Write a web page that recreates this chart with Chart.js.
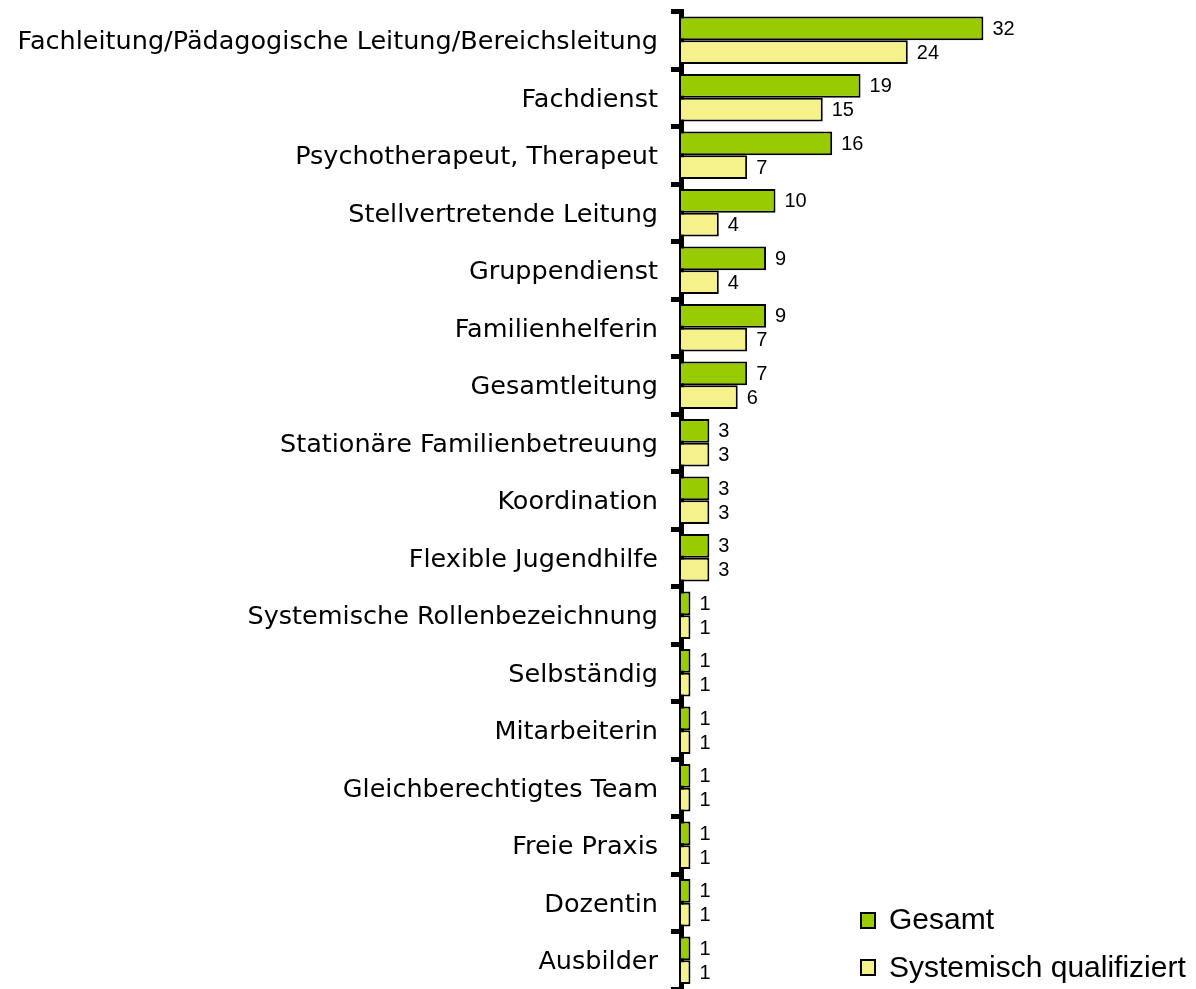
<!DOCTYPE html>
<html>
<head>
<meta charset="utf-8">
<script src="https://cdn.jsdelivr.net/npm/chart.js@4.4.0/dist/chart.umd.min.js"></script>
<style>
  html, body { margin: 0; padding: 0; background: #fff; overflow: hidden; }
  #wrap { position: relative; width: 1196px; height: 989px; overflow: hidden; }
  canvas { position: absolute; left: 0; top: 0; }
  .leg { position: absolute; font-family: "Liberation Sans", Arial, sans-serif; font-size: 30px; line-height: 30px; color: #000; white-space: nowrap; }
  .box { position: absolute; width: 16px; height: 17px; box-sizing: border-box; border: 2px solid #000; }
</style>
</head>
<body>
<div id="wrap">
  <canvas id="c" width="1196" height="1000"></canvas>
  <div class="box" id="b1" style="left:860px; top:912px;"></div>
  <div class="leg" id="l1" style="left:889px; top:904px;"></div>
  <div class="box" id="b2" style="left:860px; top:959px;"></div>
  <div class="leg" id="l2" style="left:889px; top:952px;"></div>
</div>
<script>
const categories = [
  "Fachleitung/Pädagogische Leitung/Bereichsleitung",
  "Fachdienst",
  "Psychotherapeut, Therapeut",
  "Stellvertretende Leitung",
  "Gruppendienst",
  "Familienhelferin",
  "Gesamtleitung",
  "Stationäre Familienbetreuung",
  "Koordination",
  "Flexible Jugendhilfe",
  "Systemische Rollenbezeichnung",
  "Selbständig",
  "Mitarbeiterin",
  "Gleichberechtigtes Team",
  "Freie Praxis",
  "Dozentin",
  "Ausbilder"
];
const seriesNames = ["Gesamt", "Systemisch qualifiziert"];
const gesamt = [32, 19, 16, 10, 9, 9, 7, 3, 3, 3, 1, 1, 1, 1, 1, 1, 1];
const systemisch = [24, 15, 7, 4, 4, 7, 6, 3, 3, 3, 1, 1, 1, 1, 1, 1, 1];
const colors = ["#99CC00", "#F5F28C"];

document.getElementById('l1').textContent = seriesNames[0];
document.getElementById('l2').textContent = seriesNames[1];
document.getElementById('b1').style.background = colors[0];
document.getElementById('b2').style.background = colors[1];

const valueLabels = {
  id: 'valueLabels',
  afterDatasetsDraw(chart) {
    const ctx = chart.ctx;
    ctx.save();
    ctx.font = '20px "Liberation Sans", Arial, sans-serif';
    ctx.fillStyle = '#000';
    ctx.textAlign = 'left';
    ctx.textBaseline = 'middle';
    chart.data.datasets.forEach((ds, di) => {
      const meta = chart.getDatasetMeta(di);
      meta.data.forEach((el, i) => {
        ctx.fillText(String(ds.data[i]), el.x + 9, el.y + 1);
      });
    });
    ctx.restore();
  }
};

new Chart(document.getElementById('c'), {
  type: 'bar',
  data: {
    labels: categories,
    datasets: [
      { label: seriesNames[0], data: gesamt, backgroundColor: colors[0], borderColor: '#000', borderWidth: 2, categoryPercentage: 0.83, barPercentage: 1.0 },
      { label: seriesNames[1], data: systemisch, backgroundColor: colors[1], borderColor: '#000', borderWidth: 2, categoryPercentage: 0.83, barPercentage: 1.0 }
    ]
  },
  options: {
    indexAxis: 'y',
    responsive: false,
    animation: false,
    devicePixelRatio: 1,
    layout: { padding: { top: 11.5, bottom: 11, left: 0, right: 0 } },
    plugins: { legend: { display: false }, tooltip: { enabled: false } },
    scales: {
      x: { display: false, min: 0, max: 54.5 },
      y: {
        position: 'left',
        grid: { offset: true, drawOnChartArea: false, drawTicks: true, tickLength: 10, lineWidth: 5, color: '#000' },
        border: { display: true, width: 5, color: '#000' },
        ticks: { font: { family: '"DejaVu Sans", sans-serif', size: 25.5 }, color: '#000', padding: 13, autoSkip: false, labelOffset: 2.5 },
        afterFit(scale) { scale.width = 681; scale.paddingTop = 0; scale.paddingBottom = 0; }
      }
    }
  },
  plugins: [valueLabels]
});
</script>
</body>
</html>
